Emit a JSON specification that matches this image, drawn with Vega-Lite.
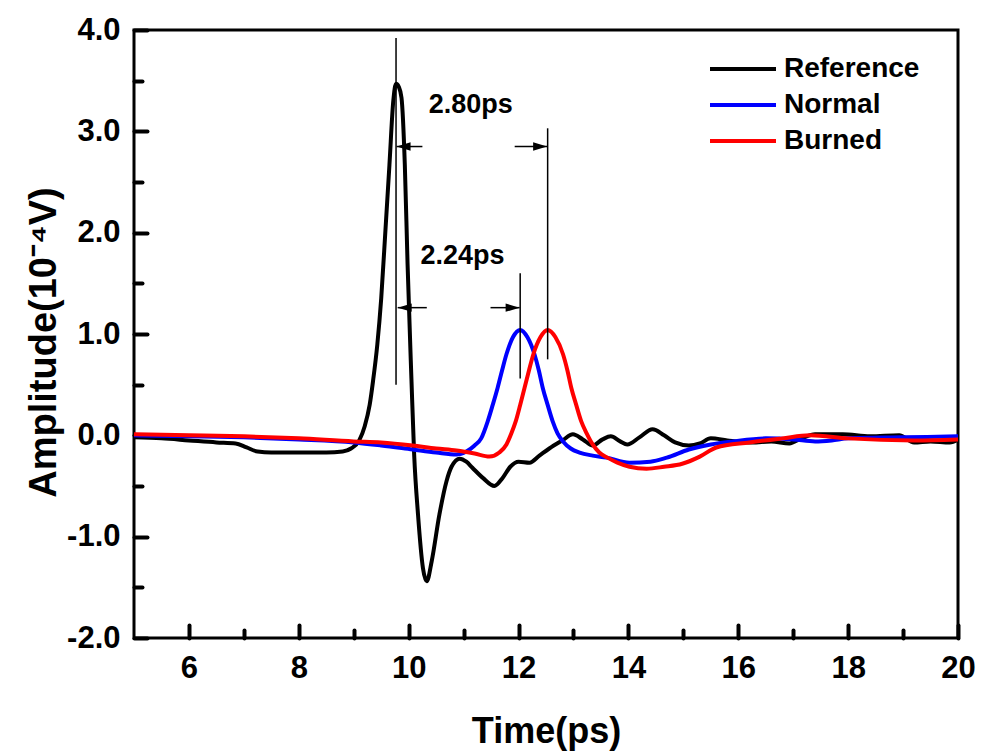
{
  "$schema": "https://vega.github.io/schema/vega-lite/v6.json",
  "width": 824,
  "height": 608,
  "autosize": "none",
  "padding": {"left": 134, "top": 30, "right": 23, "bottom": 118},
  "background": "white",
  "config": {"view": {"stroke": "black", "strokeWidth": 3}, "font": "Liberation Sans"},
  "datasets": {
    "curves": [
      {"series": "Reference", "t": 5.0, "amp": -0.02},
      {"series": "Reference", "t": 5.5, "amp": -0.03},
      {"series": "Reference", "t": 6.0, "amp": -0.05},
      {"series": "Reference", "t": 6.5, "amp": -0.07},
      {"series": "Reference", "t": 6.85, "amp": -0.08},
      {"series": "Reference", "t": 7.05, "amp": -0.12},
      {"series": "Reference", "t": 7.25, "amp": -0.16},
      {"series": "Reference", "t": 7.5, "amp": -0.17},
      {"series": "Reference", "t": 8.0, "amp": -0.17},
      {"series": "Reference", "t": 8.5, "amp": -0.17},
      {"series": "Reference", "t": 8.8, "amp": -0.16},
      {"series": "Reference", "t": 8.95, "amp": -0.13},
      {"series": "Reference", "t": 9.1, "amp": -0.05},
      {"series": "Reference", "t": 9.2, "amp": 0.09},
      {"series": "Reference", "t": 9.29, "amp": 0.3},
      {"series": "Reference", "t": 9.35, "amp": 0.53},
      {"series": "Reference", "t": 9.43, "amp": 0.9},
      {"series": "Reference", "t": 9.5, "amp": 1.35},
      {"series": "Reference", "t": 9.58, "amp": 2.05},
      {"series": "Reference", "t": 9.65, "amp": 2.67},
      {"series": "Reference", "t": 9.72, "amp": 3.3},
      {"series": "Reference", "t": 9.77, "amp": 3.47},
      {"series": "Reference", "t": 9.82, "amp": 3.44},
      {"series": "Reference", "t": 9.87, "amp": 3.33},
      {"series": "Reference", "t": 9.93, "amp": 2.67},
      {"series": "Reference", "t": 9.98, "amp": 1.69},
      {"series": "Reference", "t": 10.05, "amp": 0.56},
      {"series": "Reference", "t": 10.1, "amp": -0.19},
      {"series": "Reference", "t": 10.17, "amp": -0.78},
      {"series": "Reference", "t": 10.26, "amp": -1.31},
      {"series": "Reference", "t": 10.33, "amp": -1.44},
      {"series": "Reference", "t": 10.42, "amp": -1.24},
      {"series": "Reference", "t": 10.56, "amp": -0.78},
      {"series": "Reference", "t": 10.69, "amp": -0.45},
      {"series": "Reference", "t": 10.78, "amp": -0.31},
      {"series": "Reference", "t": 10.93, "amp": -0.23},
      {"series": "Reference", "t": 11.05, "amp": -0.26},
      {"series": "Reference", "t": 11.16, "amp": -0.32},
      {"series": "Reference", "t": 11.35, "amp": -0.42},
      {"series": "Reference", "t": 11.56, "amp": -0.5},
      {"series": "Reference", "t": 11.71, "amp": -0.42},
      {"series": "Reference", "t": 11.85, "amp": -0.31},
      {"series": "Reference", "t": 12.0, "amp": -0.26},
      {"series": "Reference", "t": 12.2, "amp": -0.27},
      {"series": "Reference", "t": 12.38, "amp": -0.2},
      {"series": "Reference", "t": 12.56, "amp": -0.13},
      {"series": "Reference", "t": 12.8, "amp": -0.05},
      {"series": "Reference", "t": 12.99, "amp": 0.01},
      {"series": "Reference", "t": 13.17, "amp": -0.04},
      {"series": "Reference", "t": 13.35, "amp": -0.1},
      {"series": "Reference", "t": 13.53, "amp": -0.04},
      {"series": "Reference", "t": 13.68, "amp": -0.01},
      {"series": "Reference", "t": 13.85, "amp": -0.06},
      {"series": "Reference", "t": 13.98, "amp": -0.09},
      {"series": "Reference", "t": 14.2, "amp": -0.02},
      {"series": "Reference", "t": 14.44, "amp": 0.06},
      {"series": "Reference", "t": 14.65, "amp": 0.0},
      {"series": "Reference", "t": 14.85, "amp": -0.07},
      {"series": "Reference", "t": 15.1, "amp": -0.1},
      {"series": "Reference", "t": 15.3, "amp": -0.08},
      {"series": "Reference", "t": 15.5, "amp": -0.03},
      {"series": "Reference", "t": 15.8, "amp": -0.05},
      {"series": "Reference", "t": 16.25, "amp": -0.07},
      {"series": "Reference", "t": 16.6, "amp": -0.06},
      {"series": "Reference", "t": 16.93, "amp": -0.08},
      {"series": "Reference", "t": 17.15, "amp": -0.03},
      {"series": "Reference", "t": 17.4, "amp": 0.01},
      {"series": "Reference", "t": 17.9, "amp": 0.01},
      {"series": "Reference", "t": 18.4, "amp": -0.01},
      {"series": "Reference", "t": 18.93, "amp": 0.0},
      {"series": "Reference", "t": 19.2, "amp": -0.07},
      {"series": "Reference", "t": 19.5, "amp": -0.06},
      {"series": "Reference", "t": 19.85, "amp": -0.07},
      {"series": "Reference", "t": 20.0, "amp": -0.04},
      {"series": "Normal", "t": 5.0, "amp": 0.0},
      {"series": "Normal", "t": 6.0, "amp": -0.01},
      {"series": "Normal", "t": 7.0, "amp": -0.02},
      {"series": "Normal", "t": 8.0, "amp": -0.04},
      {"series": "Normal", "t": 9.0, "amp": -0.07},
      {"series": "Normal", "t": 9.5, "amp": -0.1},
      {"series": "Normal", "t": 10.07, "amp": -0.14},
      {"series": "Normal", "t": 10.5, "amp": -0.17},
      {"series": "Normal", "t": 10.87, "amp": -0.19},
      {"series": "Normal", "t": 11.05, "amp": -0.16},
      {"series": "Normal", "t": 11.2, "amp": -0.1},
      {"series": "Normal", "t": 11.32, "amp": -0.03},
      {"series": "Normal", "t": 11.44, "amp": 0.14},
      {"series": "Normal", "t": 11.53, "amp": 0.3},
      {"series": "Normal", "t": 11.62, "amp": 0.47},
      {"series": "Normal", "t": 11.7, "amp": 0.64},
      {"series": "Normal", "t": 11.78, "amp": 0.8},
      {"series": "Normal", "t": 11.9, "amp": 0.97},
      {"series": "Normal", "t": 12.03, "amp": 1.04},
      {"series": "Normal", "t": 12.16, "amp": 0.97},
      {"series": "Normal", "t": 12.29, "amp": 0.8},
      {"series": "Normal", "t": 12.37, "amp": 0.64},
      {"series": "Normal", "t": 12.44, "amp": 0.47},
      {"series": "Normal", "t": 12.53, "amp": 0.3},
      {"series": "Normal", "t": 12.62, "amp": 0.14},
      {"series": "Normal", "t": 12.71, "amp": 0.02},
      {"series": "Normal", "t": 12.81, "amp": -0.06},
      {"series": "Normal", "t": 12.95, "amp": -0.13},
      {"series": "Normal", "t": 13.11, "amp": -0.17},
      {"series": "Normal", "t": 13.35, "amp": -0.2},
      {"series": "Normal", "t": 13.6, "amp": -0.22},
      {"series": "Normal", "t": 14.02, "amp": -0.27},
      {"series": "Normal", "t": 14.4, "amp": -0.26},
      {"series": "Normal", "t": 14.7, "amp": -0.22},
      {"series": "Normal", "t": 15.1, "amp": -0.14},
      {"series": "Normal", "t": 15.5, "amp": -0.09},
      {"series": "Normal", "t": 15.9, "amp": -0.06},
      {"series": "Normal", "t": 16.5, "amp": -0.03},
      {"series": "Normal", "t": 17.0, "amp": -0.04},
      {"series": "Normal", "t": 17.4, "amp": -0.06},
      {"series": "Normal", "t": 17.7, "amp": -0.05},
      {"series": "Normal", "t": 18.0, "amp": -0.03},
      {"series": "Normal", "t": 19.0, "amp": -0.02},
      {"series": "Normal", "t": 20.0, "amp": -0.01},
      {"series": "Burned", "t": 5.0, "amp": 0.01},
      {"series": "Burned", "t": 6.0, "amp": 0.0},
      {"series": "Burned", "t": 7.0, "amp": -0.01},
      {"series": "Burned", "t": 8.0, "amp": -0.03},
      {"series": "Burned", "t": 9.0, "amp": -0.06},
      {"series": "Burned", "t": 9.5, "amp": -0.07},
      {"series": "Burned", "t": 10.07, "amp": -0.1},
      {"series": "Burned", "t": 10.5, "amp": -0.13},
      {"series": "Burned", "t": 10.87, "amp": -0.15},
      {"series": "Burned", "t": 11.2, "amp": -0.18},
      {"series": "Burned", "t": 11.47, "amp": -0.21},
      {"series": "Burned", "t": 11.65, "amp": -0.17},
      {"series": "Burned", "t": 11.78, "amp": -0.09},
      {"series": "Burned", "t": 11.87, "amp": 0.02},
      {"series": "Burned", "t": 11.95, "amp": 0.14},
      {"series": "Burned", "t": 12.03, "amp": 0.3},
      {"series": "Burned", "t": 12.11, "amp": 0.47},
      {"series": "Burned", "t": 12.19, "amp": 0.64},
      {"series": "Burned", "t": 12.27, "amp": 0.8},
      {"series": "Burned", "t": 12.4, "amp": 0.97},
      {"series": "Burned", "t": 12.53, "amp": 1.04},
      {"series": "Burned", "t": 12.67, "amp": 0.97},
      {"series": "Burned", "t": 12.81, "amp": 0.8},
      {"series": "Burned", "t": 12.89, "amp": 0.64},
      {"series": "Burned", "t": 12.96, "amp": 0.47},
      {"series": "Burned", "t": 13.05, "amp": 0.3},
      {"series": "Burned", "t": 13.14, "amp": 0.14},
      {"series": "Burned", "t": 13.24, "amp": 0.02},
      {"series": "Burned", "t": 13.35, "amp": -0.09},
      {"series": "Burned", "t": 13.47, "amp": -0.17},
      {"series": "Burned", "t": 13.62, "amp": -0.22},
      {"series": "Burned", "t": 13.8, "amp": -0.27},
      {"series": "Burned", "t": 14.02, "amp": -0.31},
      {"series": "Burned", "t": 14.33, "amp": -0.33},
      {"series": "Burned", "t": 14.65, "amp": -0.31},
      {"series": "Burned", "t": 14.98, "amp": -0.28},
      {"series": "Burned", "t": 15.3, "amp": -0.21},
      {"series": "Burned", "t": 15.6, "amp": -0.12},
      {"series": "Burned", "t": 16.2, "amp": -0.07},
      {"series": "Burned", "t": 16.8, "amp": -0.03},
      {"series": "Burned", "t": 17.3, "amp": 0.0},
      {"series": "Burned", "t": 18.0, "amp": -0.03},
      {"series": "Burned", "t": 19.2, "amp": -0.05},
      {"series": "Burned", "t": 20.0, "amp": -0.04}
    ],
    "vlines": [
      {"t": 9.77, "amp": 0.5, "amp2": 3.92},
      {"t": 12.03, "amp": 0.56, "amp2": 1.6},
      {"t": 12.53, "amp": 0.75, "amp2": 3.03}
    ],
    "arrows": [
      {"t": 10.25, "t2": 9.78, "amp": 2.85, "dir": "left"},
      {"t": 11.93, "t2": 12.52, "amp": 2.85, "dir": "right"},
      {"t": 10.33, "t2": 9.8, "amp": 1.26, "dir": "left"},
      {"t": 11.49, "t2": 12.02, "amp": 1.26, "dir": "right"}
    ],
    "labels": [
      {"t": 11.13, "amp": 3.26, "label": "2.80ps"},
      {"t": 10.98, "amp": 1.77, "label": "2.24ps"}
    ]
  },
  "layer": [
    {
      "data": {"name": "curves"},
      "mark": {"type": "line", "strokeWidth": 4, "interpolate": "monotone"},
      "encoding": {
        "x": {
          "field": "t", "type": "quantitative",
          "scale": {"domain": [5, 20], "nice": false, "zero": false},
          "axis": {
            "title": "Time(ps)",
            "values": [6, 7, 8, 9, 10, 11, 12, 13, 14, 15, 16, 17, 18, 19, 20],
            "domain": false, "grid": false,
            "tickColor": "black", "tickWidth": 4, "tickCap": "round",
            "tickSize": {"condition": {"test": "datum.value % 2 === 0", "value": -13}, "value": -8},
            "labelExpr": "datum.value % 2 === 0 ? datum.label : ''",
            "labelFont": "Liberation Sans", "labelFontSize": 31, "labelFontWeight": "bold",
            "labelColor": "black", "labelPadding": 28, "labelFlush": false, "labelOverlap": false,
            "titleFont": "Liberation Sans", "titleFontSize": 36, "titleFontWeight": "bold",
            "titleColor": "black", "titleY": 104, "titleBaseline": "alphabetic",
            "encode": {"ticks": {"update": {"strokeWidth": {"value": 4}, "strokeCap": {"value": "round"}}}}
          }
        },
        "y": {
          "field": "amp", "type": "quantitative",
          "scale": {"domain": [-2, 4], "nice": false, "zero": false},
          "axis": {
            "title": "Amplitude(10⁻⁴V)",
            "values": [-2, -1.5, -1, -0.5, 0, 0.5, 1, 1.5, 2, 2.5, 3, 3.5, 4],
            "domain": false, "grid": false,
            "tickColor": "black", "tickWidth": 4, "tickCap": "round",
            "tickSize": {"condition": {"test": "datum.value % 1 === 0", "value": -13}, "value": -8},
            "labelExpr": "datum.value % 1 === 0 ? (datum.value < 0 ? '-' : '') + format(abs(datum.value), '.1f') : ''",
            "labelFont": "Liberation Sans", "labelFontSize": 31, "labelFontWeight": "bold",
            "labelColor": "black", "labelPadding": 27, "labelFlush": false, "labelOverlap": false,
            "titleFont": "Liberation Sans", "titleFontSize": 38, "titleFontWeight": "bold",
            "titleColor": "black", "titleX": -79, "titleY": 312, "titleAngle": -90,
            "titleAlign": "center", "titleBaseline": "alphabetic",
            "encode": {"ticks": {"update": {"strokeWidth": {"value": 4}, "strokeCap": {"value": "round"}}}}
          }
        },
        "color": {
          "field": "series", "type": "nominal",
          "scale": {"domain": ["Reference", "Normal", "Burned"], "range": ["#000000", "#0000FF", "#FF0000"]},
          "legend": {
            "orient": "none", "legendX": 574, "legendY": 21, "title": null,
            "symbolType": "stroke", "symbolSize": 4356, "symbolStrokeWidth": 4,
            "labelFont": "Liberation Sans", "labelFontSize": 28, "labelFontWeight": "bold",
            "labelColor": "black", "labelOffset": 6, "clipHeight": 36, "rowPadding": 0, "padding": 0
          }
        }
      }
    },
    {
      "data": {"name": "vlines"},
      "mark": {"type": "rule", "color": "black", "strokeWidth": 1.5},
      "encoding": {
        "x": {"field": "t", "type": "quantitative"},
        "y": {"field": "amp", "type": "quantitative"},
        "y2": {"field": "amp2"}
      }
    },
    {
      "data": {"name": "arrows"},
      "mark": {"type": "rule", "color": "black", "strokeWidth": 1.5},
      "encoding": {
        "x": {"field": "t", "type": "quantitative"},
        "x2": {"field": "t2"},
        "y": {"field": "amp", "type": "quantitative"}
      }
    },
    {
      "data": {"name": "arrows"},
      "mark": {"type": "point", "filled": true, "color": "black", "opacity": 1, "size": 196, "strokeWidth": 0},
      "encoding": {
        "x": {"field": "t2", "type": "quantitative"},
        "y": {"field": "amp", "type": "quantitative"},
        "shape": {
          "field": "dir", "type": "nominal",
          "scale": {"domain": ["left", "right"], "range": ["M0,0L2,-0.6L2,0.6Z", "M0,0L-2,-0.6L-2,0.6Z"]},
          "legend": null
        }
      }
    },
    {
      "data": {"name": "labels"},
      "mark": {"type": "text", "font": "Liberation Sans", "fontSize": 27, "fontWeight": "bold", "color": "black", "align": "center", "baseline": "middle"},
      "encoding": {
        "x": {"field": "t", "type": "quantitative"},
        "y": {"field": "amp", "type": "quantitative"},
        "text": {"field": "label"}
      }
    }
  ]
}
